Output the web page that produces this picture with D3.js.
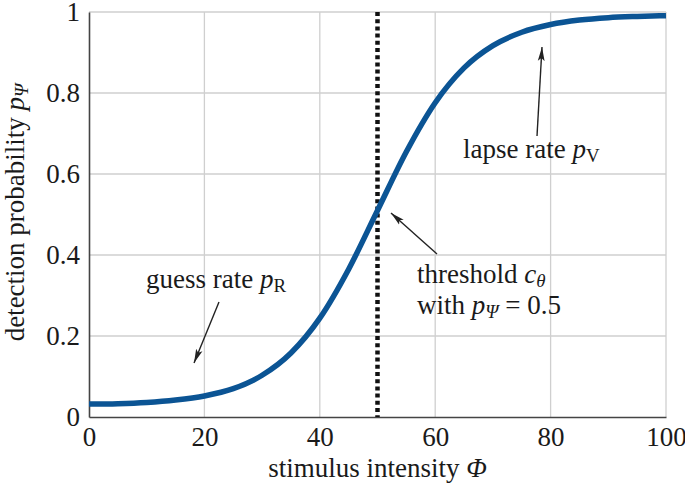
<!DOCTYPE html>
<html><head><meta charset="utf-8">
<script src="https://cdn.jsdelivr.net/npm/d3@7"></script>
<style>body{margin:0;background:#fff}svg{display:block}text{font-family:"Liberation Serif","Times New Roman",serif;fill:#1a1a1a}</style>
</head><body>
<svg id="c" width="685" height="491"></svg>
<script>
const intensity = [0,5,10,15,20,25,30,35,40,45,50,55,60,65,70,75,80,85,90,95,100];
const probability = [0.032,0.033,0.036,0.042,0.052,0.070,0.103,0.158,0.244,0.365,0.510,0.655,0.776,0.862,0.917,0.950,0.969,0.980,0.986,0.989,0.991];
const xTicks = [0,20,40,60,80,100];
const yTicks = [0,0.2,0.4,0.6,0.8,1];
const yTickLabels = ["0","0.2","0.4","0.6","0.8","1"];
const threshold = 50;

const svg = d3.select("#c");
const L=89,R=666,T=12,B=417;
const x = d3.scaleLinear().domain([0,100]).range([L,R]);
const y = d3.scaleLinear().domain([0,1]).range([B,T]);
const fs = 27;

// grid
svg.append("g").selectAll("line").data(xTicks.slice(1)).join("line")
  .attr("x1",d=>x(d)).attr("x2",d=>x(d)).attr("y1",T).attr("y2",B)
  .attr("stroke","#cfcfcf").attr("stroke-width",1.3);
svg.append("g").selectAll("line").data(yTicks.slice(1)).join("line")
  .attr("x1",L).attr("x2",R).attr("y1",d=>y(d)).attr("y2",d=>y(d))
  .attr("stroke","#cfcfcf").attr("stroke-width",1.3);

// axes
const xAxis = d3.axisBottom(x).tickValues(xTicks).tickSize(0).tickPadding(10).tickFormat(d3.format("d"));
const gx = svg.append("g").attr("transform",`translate(0,${B})`).call(xAxis);
const yAxis = d3.axisLeft(y).tickValues(yTicks).tickSize(0).tickPadding(9).tickFormat((d,i)=>yTickLabels[i]);
const gy = svg.append("g").attr("transform",`translate(${L},0)`).call(yAxis);
[gx,gy].forEach(g=>{
  g.select(".domain").attr("stroke","#444").attr("stroke-width",1.6);
  g.selectAll("text").attr("font-size",fs).attr("fill","#1a1a1a");
});
gx.selectAll("text").attr("dy","0.72em");
gy.selectAll("text").attr("dy","0.3em");

// threshold dotted line
svg.append("line").attr("x1",x(threshold)).attr("x2",x(threshold)).attr("y1",y(1)).attr("y2",y(0))
  .attr("stroke","#111").attr("stroke-width",4.5).attr("stroke-dasharray","4,3.2");

// curve
const line = d3.line().x((d,i)=>x(intensity[i])).y(d=>y(d)).curve(d3.curveMonotoneX);
svg.append("path").datum(probability).attr("d",line).attr("fill","none")
  .attr("stroke","#0b5494").attr("stroke-width",5.5).attr("stroke-linecap","butt");

// arrows
const defs = svg.append("defs");
defs.append("marker").attr("id","ah").attr("viewBox","0 0 14 8").attr("refX",14).attr("refY",4)
  .attr("markerWidth",14).attr("markerHeight",8).attr("markerUnits","userSpaceOnUse").attr("orient","auto")
  .append("path").attr("d","M0,0.6 L14,4 L0,7.4 L3,4 Z").attr("fill","#222");
function arrow(x1,y1,x2,y2){
  svg.append("line").attr("x1",x1).attr("y1",y1).attr("x2",x2).attr("y2",y2)
    .attr("stroke","#222").attr("stroke-width",1.4).attr("marker-end","url(#ah)");
}
arrow(219,302,194,363);
arrow(437,254,391,213);
arrow(537,136,542,47);

function label(xp,yp,parts){
  const t = svg.append("text").attr("x",xp).attr("y",yp).attr("font-size",fs);
  parts.forEach(p=>{
    const s = t.append("tspan").text(p.t);
    if(p.i) s.attr("font-style","italic");
    if(p.sub) s.attr("font-size",fs*0.7).attr("baseline-shift","-20%");
  });
  return t;
}
label(146,288,[{t:"guess rate "},{t:"p",i:1},{t:"R",sub:1}]);
label(417,283,[{t:"threshold "},{t:"c",i:1},{t:"θ",i:1,sub:1}]);
label(417,314,[{t:"with "},{t:"p",i:1},{t:"Ψ",i:1,sub:1},{t:" = 0.5"}]);
label(463,158,[{t:"lapse rate "},{t:"p",i:1},{t:"V",sub:1}]);

// axis titles
const xt = svg.append("text").attr("x",(L+R)/2).attr("y",477).attr("text-anchor","middle").attr("font-size",fs);
xt.append("tspan").text("stimulus intensity ");
xt.append("tspan").text("Φ").attr("font-style","italic");
const yt = svg.append("text").attr("transform",`translate(24,${(T+B)/2 - 2}) rotate(-90)`).attr("text-anchor","middle").attr("font-size",fs);
yt.append("tspan").text("detection probability ");
yt.append("tspan").text("p").attr("font-style","italic");
yt.append("tspan").text("Ψ").attr("font-style","italic").attr("font-size",fs*0.7).attr("baseline-shift","-20%");
</script>
</body></html>
